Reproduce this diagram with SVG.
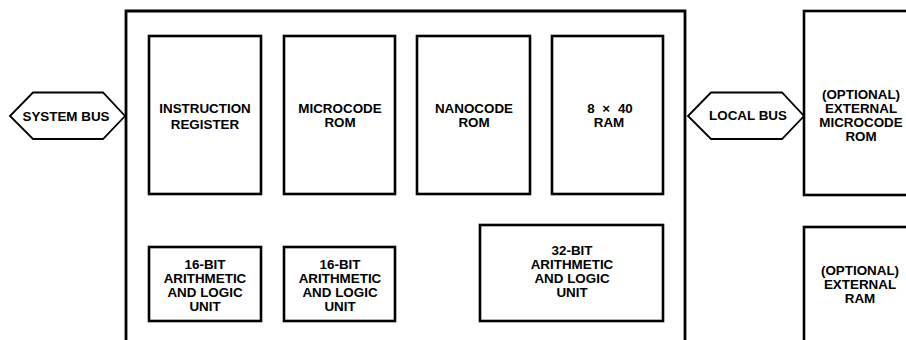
<svg xmlns="http://www.w3.org/2000/svg" width="906" height="340" viewBox="0 0 906 340">
<style>
.box{fill:#fff;stroke:#000;stroke-width:2.6}
.frame{fill:none;stroke:#000;stroke-width:2.8}
.bus{fill:#fff;stroke:#000;stroke-width:1.8;stroke-linejoin:miter}
text{font-family:"Liberation Sans",Arial,Helvetica,sans-serif;font-weight:bold;font-size:13.4px;text-anchor:middle;fill:#000}
</style>
<rect width="906" height="340" fill="#fff"/>
<g id="cpu">
<path class="frame" d="M126,345 V11 H685 V345"/>
</g>
<g id="instruction-register">
<rect class="box" x="149" y="36" width="112" height="158"/>
<text x="205" y="113">INSTRUCTION</text>
<text x="205" y="129">REGISTER</text>
</g>
<g id="microcode-rom">
<rect class="box" x="284" y="36" width="111" height="158"/>
<text x="340" y="113">MICROCODE</text>
<text x="340" y="127">ROM</text>
</g>
<g id="nanocode-rom">
<rect class="box" x="417" y="36" width="113" height="158"/>
<text x="474" y="113">NANOCODE</text>
<text x="474" y="127">ROM</text>
</g>
<g id="ram-8x40">
<rect class="box" x="552" y="36" width="111" height="158"/>
<text x="610" y="113" word-spacing="4">8 × 40</text>
<text x="609" y="127">RAM</text>
</g>
<g id="alu16-a">
<rect class="box" x="149" y="247" width="112" height="74"/>
<text x="205" y="269">16-BIT</text>
<text x="205" y="283">ARITHMETIC</text>
<text x="205" y="297">AND LOGIC</text>
<text x="205" y="311">UNIT</text>
</g>
<g id="alu16-b">
<rect class="box" x="284" y="247" width="111" height="74"/>
<text x="340" y="269">16-BIT</text>
<text x="340" y="283">ARITHMETIC</text>
<text x="340" y="297">AND LOGIC</text>
<text x="340" y="311">UNIT</text>
</g>
<g id="alu32">
<rect class="box" x="480" y="225" width="183" height="96"/>
<text x="572" y="255">32-BIT</text>
<text x="572" y="269">ARITHMETIC</text>
<text x="572" y="283">AND LOGIC</text>
<text x="572" y="297">UNIT</text>
</g>
<g id="system-bus">
<polygon class="bus" points="10,116 33,92.5 103,92.5 125,116 103,139 33,139"/>
<text x="66" y="121">SYSTEM BUS</text>
</g>
<g id="local-bus">
<polygon class="bus" points="688,116 711,92.5 782,92.5 804,116 782,139 711,139"/>
<text x="748" y="120">LOCAL BUS</text>
</g>
<g id="external-microcode-rom">
<rect class="box" x="804" y="11" width="160" height="184"/>
<text x="861" y="99">(OPTIONAL)</text>
<text x="861" y="113">EXTERNAL</text>
<text x="861" y="127">MICROCODE</text>
<text x="861" y="141">ROM</text>
</g>
<g id="external-ram">
<rect class="box" x="804" y="227" width="160" height="130"/>
<text x="860" y="275">(OPTIONAL)</text>
<text x="860" y="289">EXTERNAL</text>
<text x="860" y="303">RAM</text>
</g>
<g id="connectors"/>
</svg>
